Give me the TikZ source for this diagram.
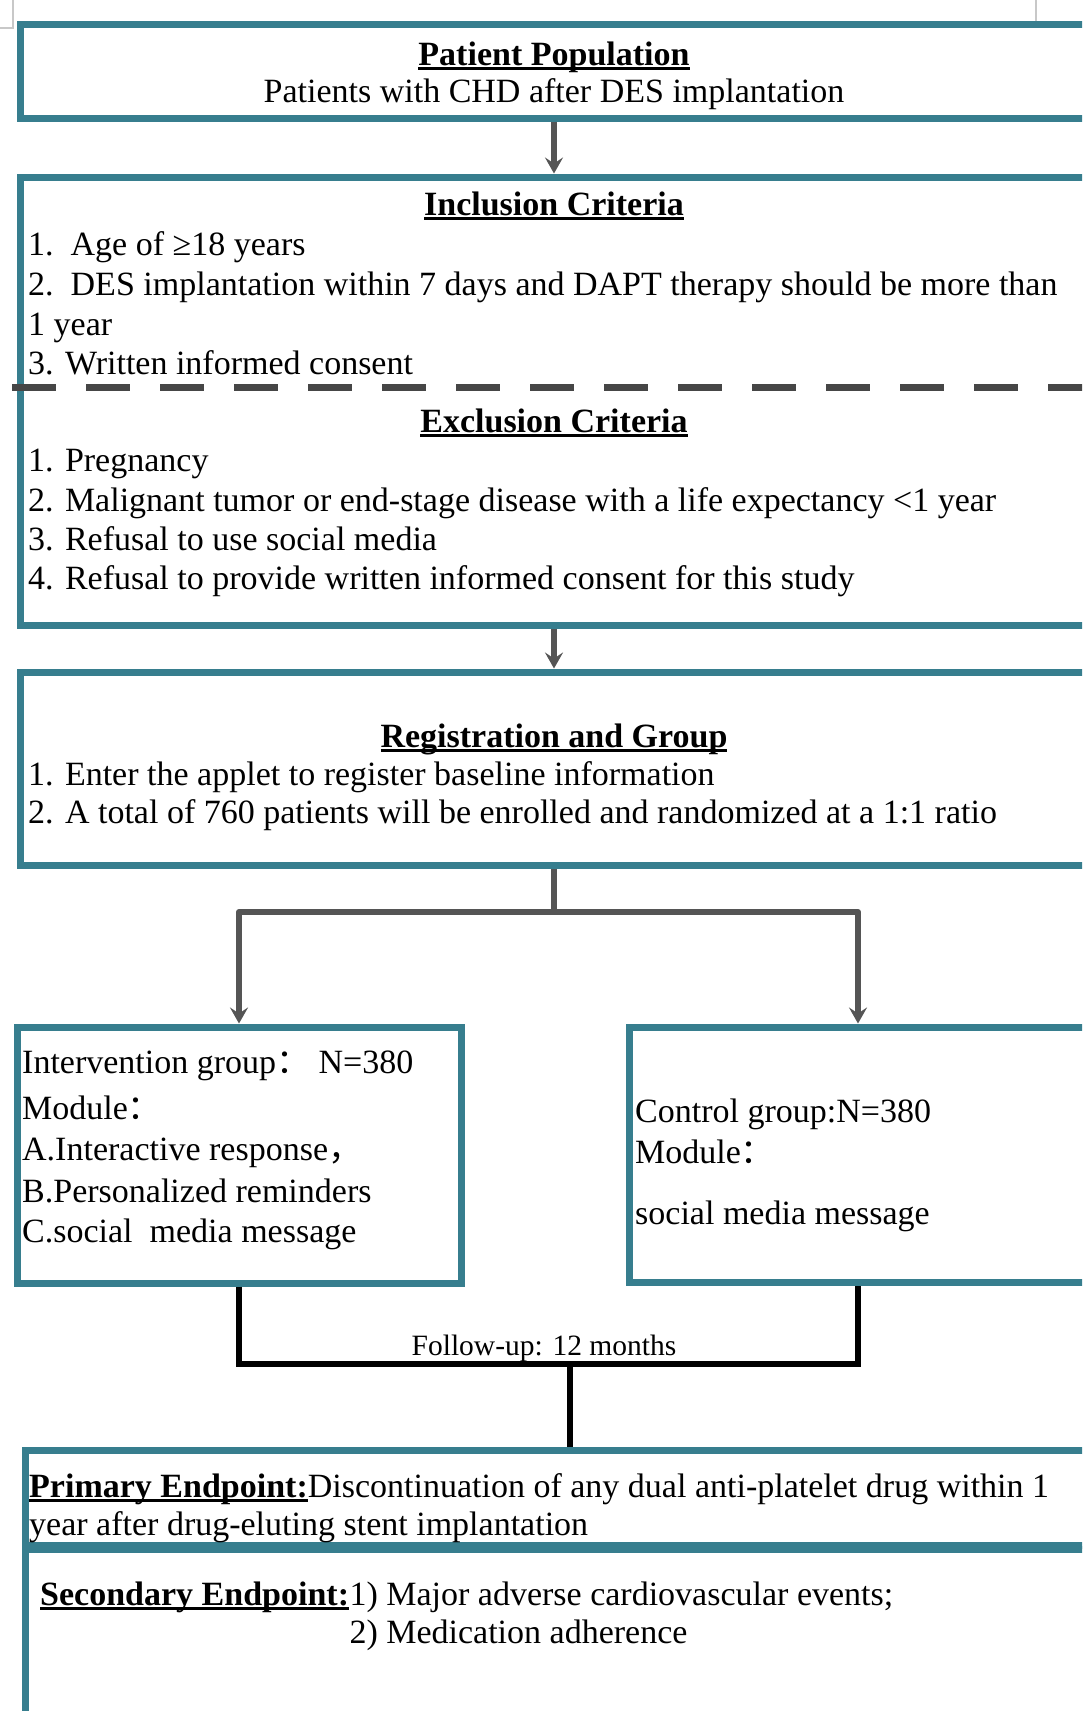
\documentclass[tikz,border=0pt]{standalone}
\usepackage{fontspec}
\setmainfont{Liberation Serif}
\newfontfamily\cjk{Noto Sans CJK SC}
\usetikzlibrary{arrows.meta,calc}
\definecolor{boxteal}{RGB}{55,126,142}
\definecolor{arrgray}{RGB}{85,85,85}
\definecolor{dashgray}{RGB}{70,70,70}
\definecolor{markgray}{RGB}{200,200,200}
\newcommand\bodysize{\fontsize{34}{39}\selectfont}
\newsavebox{\ulbox}
\newcommand\wordul[1]{\sbox\ulbox{#1}\rlap{\rule[-4.5pt]{\wd\ulbox}{2.2pt}}\usebox\ulbox}
\begin{document}
\begin{tikzpicture}[x=1pt,y=-1pt,
  box/.style={draw=boxteal,line width=7pt,rectangle,inner sep=0pt},
  txt/.style={anchor=base west,inner sep=0pt,font=\bodysize},
  ttl/.style={anchor=base,inner sep=0pt,font=\bodysize\bfseries},
  arr/.style={draw=arrgray,line width=6pt,line join=round,-{Stealth[length=16pt,width=18pt,inset=6pt]}},
  grayline/.style={draw=arrgray,line width=6pt,line join=round},
  blk/.style={draw=black,line width=6.5pt,line join=miter}]
\useasboundingbox (0,0) rectangle (1082,1711);
\clip (0,0) rectangle (1082,1711);
\fill[white] (0,0) rectangle (1082,1711);
% page corner marks
\draw[markgray,line width=1.2pt] (13,0) -- (13,28) -- (0,28);
\draw[markgray,line width=1.2pt] (1036,0) -- (1036,28);

% boxes
\node[box,minimum width=1068pt,minimum height=94pt] (pop) at (554,71) {};
\node[box,minimum width=1068pt,minimum height=448pt] (crit) at (554,401) {};
\node[box,minimum width=1068pt,minimum height=193pt] (reg) at (554,768.5) {};
\node[box,minimum width=444pt,minimum height=256pt] (int) at (239,1155) {};
\node[box,minimum width=458pt,minimum height=255pt] (ctl) at (858,1154.5) {};
\node[box,minimum width=1065pt,minimum height=95pt] (prim) at (557.5,1497.5) {};
\node[box,minimum width=1065pt,minimum height=210pt] (sec) at (557.5,1654) {};

% dashed separator
\draw[dashgray,line width=7pt,dash pattern=on 44pt off 30pt] (12,387) -- (1100,387);

% box 1 text
\node[ttl] (t1) at (554,65) {\wordul{Patient Population}};
\node[anchor=base,inner sep=0pt,font=\bodysize] (t2) at (554,102) {Patients with CHD after DES implantation};

% box 2 text
\node[ttl] (inc) at (554,215) {\wordul{Inclusion Criteria}};
\node[txt] (i1) at (28,255) {1.\ \ Age of ≥18 years};
\node[txt] (i2) at (28,295) {2.\ \ DES implantation within 7 days and DAPT therapy should be more than};
\node[txt] (i3) at (28,335) {1 year};
\node[txt] (i4) at (28,374) {3. Written informed consent};
\node[ttl] (exc) at (554,432) {\wordul{Exclusion Criteria}};
\node[txt] (e1) at (28,471) {1. Pregnancy};
\node[txt] (e2) at (28,511) {2. Malignant tumor or end-stage disease with a life expectancy <1 year};
\node[txt] (e3) at (28,550) {3. Refusal to use social media};
\node[txt] (e4) at (28,589) {4. Refusal to provide written informed consent for this study};

% box 3 text
\node[ttl] (regt) at (554,747) {\wordul{Registration and Group}};
\node[txt] (r1) at (28,785) {1. Enter the applet to register baseline information};
\node[txt] (r2) at (28,823) {2. A total of 760 patients will be enrolled and randomized at a 1:1 ratio};

% box 4 text
\node[txt] (a1) at (22,1073) {Intervention group{\cjk ：}\ N=380};
\node[txt] (a2) at (22,1119) {Module{\cjk ：}};
\node[txt] (a3) at (22,1160) {A.Interactive response{\cjk ，}};
\node[txt] (a4) at (22,1202) {B.Personalized reminders};
\node[txt] (a5) at (22,1242) {C.social\ \ media message};

% box 5 text
\node[txt] (c1) at (635,1122) {Control group:N=380};
\node[txt] (c2) at (635,1163) {Module{\cjk ：}};
\node[txt] (c3) at (635,1224) {social media message};

% follow-up label
\node[anchor=base,inner sep=0pt,font=\fontsize{29.5}{34}\selectfont] (fu) at (544,1355) {Follow-up: 12 months};

% box 6 text
\node[txt] (p1) at (29,1497) {\wordul{\bfseries Primary Endpoint:}Discontinuation of any dual anti-platelet drug within 1};
\node[txt] (p2) at (29,1535) {year after drug-eluting stent implantation};

% box 7 text
\node[txt] (s1a) at (40,1605) {\wordul{\bfseries Secondary Endpoint:}};
\node[txt] (s1b) at (s1a.base east) {1) Major adverse cardiovascular events;};
\node[txt] (s2) at (s1b.base west |- 0,1643) {2) Medication adherence};

% connectors
\draw[arr] (pop.south) -- (crit.north);
\draw[arr] (crit.south) -- (reg.north);
\coordinate (split) at (554,912);
\draw[grayline] (reg.south) -- (split);
\draw[arr] (split) -| (int.north);
\draw[arr] (split) -| (ctl.north);
\coordinate (merge) at (570,1364);
\draw[blk] (int.south) -- (int.south |- merge) -- (ctl.south |- merge) -- (ctl.south);
\draw[blk] (merge) -- (merge |- prim.north);
\end{tikzpicture}
\end{document}
